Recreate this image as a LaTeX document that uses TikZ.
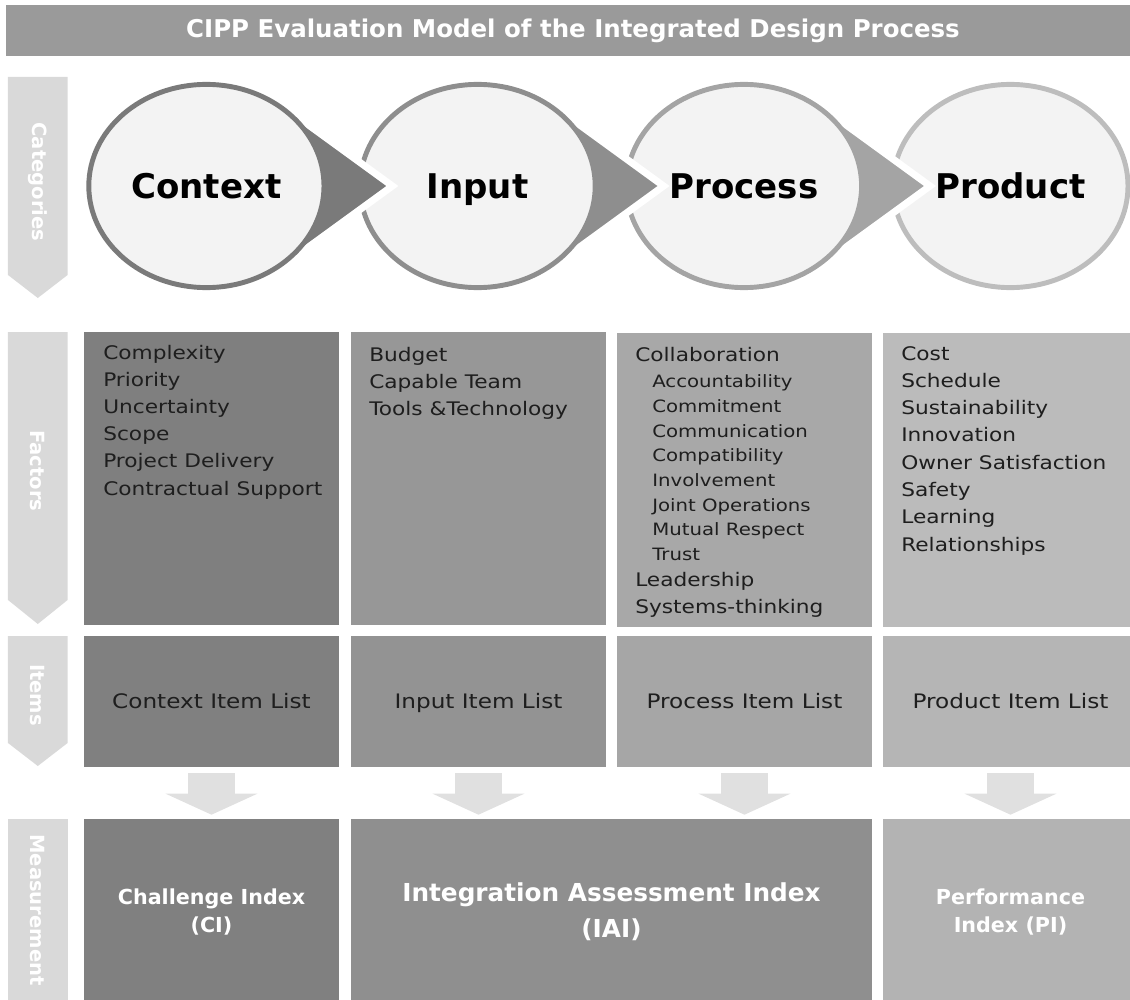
\documentclass[tikz,border=0pt]{standalone}
\usepackage{fontspec}
\setmainfont{DejaVu Sans}
\newfontfamily\widesans[FakeStretch=1.16]{DejaVu Sans}
\usetikzlibrary{shapes.geometric, arrows.meta}

\definecolor{titlegray}{HTML}{9A9A9A}
\definecolor{barfill}{HTML}{D9D9D9}
\definecolor{flowgray}{HTML}{E0E0E0}
\definecolor{stagefill}{HTML}{F3F3F3}
\definecolor{ring1}{HTML}{7A7A7A}
\definecolor{ring2}{HTML}{8E8E8E}
\definecolor{ring3}{HTML}{A4A4A4}
\definecolor{ring4}{HTML}{BDBDBD}
\definecolor{fac1}{HTML}{7F7F7F}
\definecolor{fac2}{HTML}{979797}
\definecolor{fac3}{HTML}{A8A8A8}
\definecolor{fac4}{HTML}{BBBBBB}
\definecolor{item1}{HTML}{808080}
\definecolor{item2}{HTML}{939393}
\definecolor{item3}{HTML}{A6A6A6}
\definecolor{item4}{HTML}{B5B5B5}
\definecolor{meas1}{HTML}{808080}
\definecolor{meas2}{HTML}{8F8F8F}
\definecolor{meas4}{HTML}{B3B3B3}
\definecolor{factortext}{HTML}{1E1E1E}

\begin{document}
\begin{tikzpicture}[
        stage/.style={ellipse, fill=stagefill, line width=3.5pt, minimum width=5.88cm, minimum height=5.08cm, inner sep=0pt, text height=21.8pt, text depth=4.1pt, font=\fontsize{24.2}{29}\selectfont\bfseries},
        pointer/.style={fill=#1, draw=white, line width=5pt, line join=miter},
        sidebar/.style={fill=barfill},
        sidelabel/.style={rotate=-90, text=white, inner sep=0pt, font=\fontsize{13.9}{16}\selectfont\bfseries},
        column/.style={minimum width=6.375cm, inner sep=0pt},
        factor/.style={anchor=base west, inner sep=0pt, text=factortext, font=\widesans\fontsize{13.3}{16}\selectfont},
        subfactor/.style={factor, font=\widesans\fontsize{12.1}{14}\selectfont},
        itembox/.style={column, minimum height=3.275cm, text=factortext, text height=12pt, text depth=1.6pt, font=\widesans\fontsize{14.2}{17}\selectfont},
        measure/.style={minimum height=4.65cm, inner sep=0pt, text=white, align=center, font=\fontsize{14.7}{19.9}\selectfont\bfseries},
        flowdown/.style={draw=flowgray, line width=1.175cm, -{Triangle[width=2.275cm, length=0.525cm]}, shorten <=0.15cm, shorten >=0.1cm}
    ]
        \useasboundingbox (0,0) rectangle (28.25,-25);
        \clip (0,0) rectangle (28.25,-25);

        % Title bar
        \node[fill=titlegray, minimum width=28.35cm, minimum height=1.275cm, inner sep=0pt, text=white, font=\fontsize{17.4}{20}\selectfont\bfseries] (title) at (14.325,-0.7625) {CIPP Evaluation Model of the Integrated Design Process};

        % Side bars (Categories, Factors, Items, Measurement)
        \foreach \ya/\yb/\yc/\ym/\lbl [count=\i] in {-1.925/-6.875/-7.45/-4.55/Categories, -8.3/-15.0/-15.6/-11.775/Factors, -15.9/-18.575/-19.15/-17.375/Items}{
            \fill[sidebar] (0.2,\ya) -- (1.69,\ya) -- (1.69,\yb) -- (0.945,\yc) -- (0.2,\yb) -- cycle;
            \node[sidelabel] (side\i) at (0.945,\ym) {\lbl};
        }
        \fill[sidebar] (0.2,-20.475) rectangle (1.69,-25.2);
        \node[sidelabel] (side4) at (0.945,-22.75) {Measurement};

        % Categories: drawn right to left so each pointer lies over the next stage
        \node[stage, draw=ring4] (product) at (25.26,-4.65) {Product};
        \fill[pointer=ring3, shift={(18.6,-4.65)}] (0,0) -- (1.9,2.0) -- (4.65,0) -- (1.9,-2.0) -- cycle;
        \node[stage, draw=ring3] (process) at (18.6,-4.65) {Process};
        \fill[pointer=ring2, shift={(11.94,-4.65)}] (0,0) -- (1.9,2.0) -- (4.65,0) -- (1.9,-2.0) -- cycle;
        \node[stage, draw=ring2] (input) at (11.94,-4.65) {Input};
        \fill[pointer=ring1, shift={(5.16,-4.65)}] (0,0) -- (1.9,2.0) -- (4.65,0) -- (1.9,-2.0) -- cycle;
        \node[stage, draw=ring1] (context) at (5.16,-4.65) {Context};

        % Factors
        \node[column, fill=fac1, minimum height=7.325cm] (ctxfac) at (5.2875,-11.9625) {};
        \node[column, fill=fac2, minimum height=7.325cm] (infac) at (11.9625,-11.9625) {};
        \node[column, fill=fac3, minimum height=7.35cm] (procfac) at (18.6125,-12.0) {};
        \node[column, fill=fac4, minimum height=7.35cm] (prodfac) at (25.2625,-12.0) {};

        \foreach \f [count=\i] in {Complexity, Priority, Uncertainty, Scope, Project Delivery, Contractual Support}
            \node[factor] (ctxf\i) at (2.575,{-8.975-0.68*(\i-1)}) {\f};
        \foreach \f [count=\i] in {Budget, Capable Team, Tools \&Technology}
            \node[factor] (inf\i) at (9.225,{-9.025-0.675*(\i-1)}) {\f};
        \node[factor] (collab) at (15.875,-9.025) {Collaboration};
        \foreach \f [count=\i] in {Accountability, Commitment, Communication, Compatibility, Involvement, Joint Operations, Mutual Respect, Trust}
            \node[subfactor] (collab\i) at (16.3,{-9.69-0.6175*(\i-1)}) {\f};
        \node[factor] (lead) at (15.875,-14.67) {Leadership};
        \node[factor] (systhink) at (15.875,-15.33) {Systems-thinking};
        \foreach \f [count=\i] in {Cost, Schedule, Sustainability, Innovation, Owner Satisfaction, Safety, Learning, Relationships}
            \node[factor] (prodf\i) at (22.525,{-9.0-0.6825*(\i-1)}) {\f};

        % Items
        \node[itembox, fill=item1] (ctxitem) at (5.2875,-17.5375) {Context Item List};
        \node[itembox, fill=item2] (initem) at (11.9625,-17.5375) {Input Item List};
        \node[itembox, fill=item3] (procitem) at (18.6125,-17.5375) {Process Item List};
        \node[itembox, fill=item4] (proditem) at (25.2625,-17.5375) {Product Item List};

        % Measurement
        \node[measure, column, fill=meas1] (ctxmeas) at (5.2875,-22.8) {Challenge Index\\(CI)};
        \node[measure, fill=meas2, minimum width=13.025cm, font=\fontsize{17.6}{25.6}\selectfont\bfseries] (iai) at (15.2875,-22.8) {Integration Assessment Index\\(IAI)};
        \node[measure, column, fill=meas4] (prfmeas) at (25.2625,-22.8) {Performance\\Index (PI)};

        % Flows: items to measurement
        \draw[flowdown] (ctxitem.south) -- (ctxmeas.north);
        \draw[flowdown] (initem.south) -- (initem.south |- iai.north);
        \draw[flowdown] (procitem.south) -- (procitem.south |- iai.north);
        \draw[flowdown] (proditem.south) -- (proditem.south |- prfmeas.north);

    \end{tikzpicture}
\end{document}
